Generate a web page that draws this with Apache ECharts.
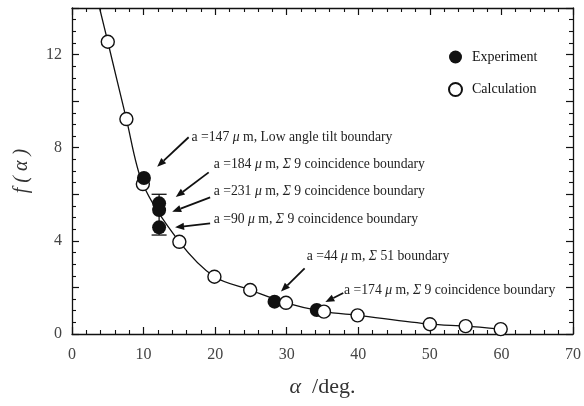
<!DOCTYPE html>
<html><head><meta charset="utf-8">
<script src="https://cdn.jsdelivr.net/npm/echarts@6/dist/echarts.min.js"></script>
<style>html,body{margin:0;padding:0;background:#fff}#c{width:584px;height:406px}</style>
</head><body><div id="c"></div>
<script>
// Calculation (open circles)
const calcX = [5.0, 7.6, 9.9, 15.0, 19.9, 24.9, 29.9, 35.2, 39.9, 50.0, 55.0, 59.9];
const calcY = [12.55, 9.23, 6.44, 3.96, 2.46, 1.89, 1.34, 0.96, 0.80, 0.42, 0.34, 0.21];
// curve enters the frame at the top
const curveHeadX = [3.85];
const curveHeadY = [14.0];
// Experiment (filled circles)
const expX = [10.05, 12.17, 12.17, 12.17, 28.3, 34.2];
const expY = [6.70, 5.61, 5.32, 4.58, 1.39, 1.03];
// error bar at the α≈12 cluster
const errX = [12.17];
const errLow = [4.25];
const errHigh = [6.0];
// annotations
const annoText = [
  'a =147 {i|μ} m, Low angle tilt boundary',
  'a =184 {i|μ} m, {s|Σ} 9 coincidence boundary',
  'a =231 {i|μ} m, {s|Σ} 9 coincidence boundary',
  'a =90 {i|μ} m, {s|Σ} 9 coincidence boundary',
  'a =44 {i|μ} m, {s|Σ} 51 boundary',
  'a =174 {i|μ} m, {s|Σ} 9 coincidence boundary'
];
const annoTail = [[16.3, 8.45], [19.1, 6.94], [19.3, 5.87], [19.3, 4.75], [32.5, 2.82], [37.9, 1.76]];
const annoTip  = [[11.9, 7.18], [14.5, 5.88], [14.0, 5.25], [14.4, 4.58], [29.2, 1.82], [35.4, 1.37]];
const annoPos  = [[16.7, 8.45], [19.8, 7.30], [19.8, 6.11], [19.8, 4.94], [32.8, 3.32], [38.0, 1.89]];
const xTicks = [0, 10, 20, 30, 40, 50, 60, 70];
const yTicks = [0, 4, 8, 12];

const SERIF = '"Liberation Serif","DejaVu Serif",serif';
const FS = 13.7;
const chart = echarts.init(document.getElementById('c'), null, {renderer: 'canvas'});
const curveData = curveHeadX.map((x, i) => [x, curveHeadY[i]]).concat(calcX.map((x, i) => [x, calcY[i]]));
const calcData = calcX.map((x, i) => [x, calcY[i]]);
const expTop = [], expBelow = [];
expX.forEach((x, i) => { (x < 20 ? expTop : expBelow).push([x, expY[i]]); });

const axisBase = {
  axisLine: {show: true, onZero: false, lineStyle: {color: '#111', width: 1.3}},
  splitLine: {show: false},
  axisTick: {show: true, inside: true, length: 7, lineStyle: {color: '#111', width: 1.2}},
  minorTick: {show: true, length: 4, lineStyle: {color: '#111', width: 1.1}},
};

const option = {
  animation: false,
  backgroundColor: '#fff',
  grid: {left: 72, right: 6, top: 8, bottom: 72, containLabel: false},
  legend: {
    orient: 'vertical', left: 443, top: 45, itemWidth: 13, itemHeight: 13, itemGap: 18,
    textStyle: {fontFamily: SERIF, fontSize: 14, color: '#111', padding: [0, 0, 0, 5]},
    data: ['Experiment', 'Calculation']
  },
  xAxis: [
    Object.assign({}, axisBase, {
      type: 'value', min: 0, max: 70, interval: 10,
      minorTick: Object.assign({}, axisBase.minorTick, {splitNumber: 5}),
      axisLabel: {margin: 13, fontFamily: SERIF, fontSize: 16, color: '#444',
        formatter: v => xTicks.includes(v) ? String(v) : ''},
      name: '{a|α}  /deg.', nameLocation: 'middle', nameGap: 42,
      nameTextStyle: {fontFamily: SERIF, fontSize: 22, color: '#333',
        rich: {a: {fontFamily: SERIF, fontStyle: 'italic', fontSize: 22, color: '#333'}}}
    }),
    Object.assign({}, axisBase, {
      type: 'value', position: 'top', min: 0, max: 70, interval: 10,
      minorTick: Object.assign({}, axisBase.minorTick, {splitNumber: 5}),
      axisLabel: {show: false}
    })
  ],
  yAxis: [
    Object.assign({}, axisBase, {
      type: 'value', min: 0, max: 14, interval: 2,
      minorTick: Object.assign({}, axisBase.minorTick, {splitNumber: 4}),
      axisLabel: {margin: 10, fontFamily: SERIF, fontSize: 16, color: '#444',
        formatter: v => yTicks.includes(v) ? String(v) : ''},
      name: 'f ( α )', nameLocation: 'middle', nameGap: 40, nameRotate: 90,
      nameTextStyle: {fontFamily: SERIF, fontStyle: 'italic', fontSize: 20, color: '#333'}
    }),
    Object.assign({}, axisBase, {
      type: 'value', position: 'right', min: 0, max: 14, interval: 2,
      minorTick: Object.assign({}, axisBase.minorTick, {splitNumber: 4}),
      axisLabel: {show: false}
    })
  ],
  series: [
    {
      type: 'line', data: curveData, showSymbol: false, symbol: 'none', smooth: 0.3,
      lineStyle: {color: '#111', width: 1.3}, z: 2, silent: true
    },
    {
      type: 'custom', z: 3, clip: false, silent: true,
      data: errX.map((x, i) => [x, errLow[i], errHigh[i]]),
      renderItem: (params, api) => {
        const x = api.value(0);
        const lo = api.coord([x, api.value(1)]);
        const hi = api.coord([x, api.value(2)]);
        const w = 7.5;
        const ls = {stroke: '#111', lineWidth: 1.3};
        return {type: 'group', children: [
          {type: 'line', shape: {x1: lo[0], y1: lo[1], x2: hi[0], y2: hi[1]}, style: ls},
          {type: 'line', shape: {x1: lo[0] - w, y1: lo[1], x2: lo[0] + w, y2: lo[1]}, style: ls},
          {type: 'line', shape: {x1: hi[0] - w, y1: hi[1], x2: hi[0] + w, y2: hi[1]}, style: ls}
        ]};
      }
    },
    {
      name: 'Experiment', type: 'scatter', data: expBelow, symbol: 'circle', symbolSize: 14,
      itemStyle: {color: '#111', borderColor: '#111', borderWidth: 0, opacity: 1}, z: 4
    },
    {
      name: 'Calculation', type: 'scatter', data: calcData, symbol: 'circle', symbolSize: 13,
      itemStyle: {color: '#fff', borderColor: '#111', borderWidth: 1.4, opacity: 1}, z: 5
    },
    {
      name: 'Experiment', type: 'scatter', data: expTop, symbol: 'circle', symbolSize: 14,
      itemStyle: {color: '#111', borderColor: '#111', borderWidth: 0, opacity: 1}, z: 6
    },
    {
      type: 'custom', z: 7, clip: false, silent: true,
      data: annoText.map((t, i) => [annoTail[i][0], annoTail[i][1]]),
      renderItem: (params, api) => {
        const i = params.dataIndex;
        const p1 = api.coord(annoTail[i]);
        const p2 = api.coord(annoTip[i]);
        const tp = api.coord(annoPos[i]);
        const dx = p2[0] - p1[0], dy = p2[1] - p1[1];
        const len = Math.sqrt(dx * dx + dy * dy);
        const ux = dx / len, uy = dy / len;
        const L = 9, W = 3.6;
        const bx = p2[0] - ux * L, by = p2[1] - uy * L;
        return {type: 'group', children: [
          {type: 'line', shape: {x1: p1[0], y1: p1[1], x2: bx, y2: by},
            style: {stroke: '#111', lineWidth: 1.8}},
          {type: 'polygon', shape: {points: [[p2[0], p2[1]], [bx - uy * W, by + ux * W], [bx + uy * W, by - ux * W]]},
            style: {fill: '#111'}},
          {type: 'text', x: tp[0], y: tp[1], style: {
            text: annoText[i], fill: '#222', fontFamily: SERIF, fontSize: FS,
            align: 'left', verticalAlign: 'middle',
            rich: {
              i: {fontFamily: SERIF, fontStyle: 'italic', fontSize: FS, fill: '#222'},
              s: {fontFamily: SERIF, fontStyle: 'italic', fontSize: FS, fill: '#222'}
            }
          }}
        ]};
      }
    }
  ]
};
chart.setOption(option);
</script></body></html>
